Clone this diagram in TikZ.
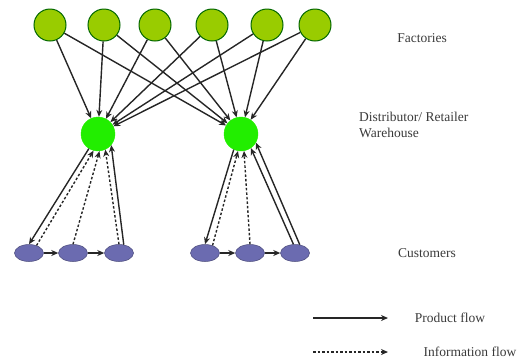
\documentclass[tikz,border=0pt]{standalone}
\usepackage{fontspec}
\setmainfont{Liberation Serif}
\usetikzlibrary{arrows.meta,shapes.geometric}
\definecolor{factc}{HTML}{99CC00}
\definecolor{distc}{HTML}{22EE00}
\definecolor{custc}{HTML}{6B6BB0}
\definecolor{txtc}{HTML}{3A3A3A}
\begin{document}
\begin{tikzpicture}[x=1pt,y=-1pt,
  factory/.style={circle,draw=black!60!green,line width=1pt,fill=factc,minimum size=32pt,inner sep=0pt},
  dist/.style={circle,fill=distc,draw=distc,minimum size=34pt,inner sep=0pt},
  cust/.style={ellipse,fill=custc,draw=custc!70!black,line width=0.5pt,minimum width=29pt,minimum height=17pt,inner sep=0pt},
  prod/.style={line width=1.4pt,black!85,-{Stealth[length=7pt,width=6pt]}},
  info/.style={line width=1.4pt,black!85,dash pattern=on 2.5pt off 2pt,-{Stealth[length=7pt,width=6pt]}},
  lbl/.style={font=\fontsize{13.5}{16}\selectfont,text=txtc,inner sep=0pt}]
\useasboundingbox (0,0) rectangle (526,360);
% factories
\foreach \i/\x in {1/50,2/104,3/155,4/212,5/267,6/315}
  \node[factory] (f\i) at (\x,25) {};
% distributors
\node[dist] (d1) at (98,134) {};
\node[dist] (d2) at (241,134) {};
% factory -> distributor
\foreach \i in {1,...,6}{
  \draw[prod] (f\i) -- (d1);
  \draw[prod] (f\i) -- (d2);
}
% customers
\node[cust] (c1) at (29,253) {};
\node[cust] (c2) at (73,253) {};
\node[cust] (c3) at (119,253) {};
\node[cust] (c4) at (205,253) {};
\node[cust] (c5) at (250,253) {};
\node[cust] (c6) at (295,253) {};
\draw[prod] (c1) -- (c2);
\draw[prod] (c2) -- (c3);
\draw[prod] (c4) -- (c5);
\draw[prod] (c5) -- (c6);
% left distributor to customers
\draw[prod] (d1.238) -- (c1.north);
\draw[info] (c1.45) -- (d1.255);
\draw[info] (c2.north) -- (d1.275);
\draw[info] (c3.north) -- (d1.295);
\draw[prod] (c3.60) -- (d1.320);
% right distributor to customers
\draw[prod] (d2.245) -- (c4.north);
\draw[info] (c4.45) -- (d2.260);
\draw[info] (c5.north) -- (d2.280);
\draw[prod] (c6.100) -- (d2.305);
\draw[prod] (c6.60) -- (d2.330);
% labels
\node[lbl] (lf) at (422,38) {Factories};
\node[lbl,anchor=west,align=left] (ld) at (359,125) {Distributor/ Retailer\\Warehouse};
\node[lbl] (lc) at (427,253) {Customers};
\coordinate (p1) at (313,318);
\coordinate (p2) at (388,318);
\coordinate (i1) at (313,352);
\coordinate (i2) at (388,352);
\draw[prod,line width=1.8pt] (p1) -- (p2);
\draw[info,line width=1.6pt] (i1) -- (i2);
\node[lbl] (lp) at (450,318) {Product flow};
\node[lbl] (li) at (470,352) {Information flow};
\end{tikzpicture}
\end{document}
